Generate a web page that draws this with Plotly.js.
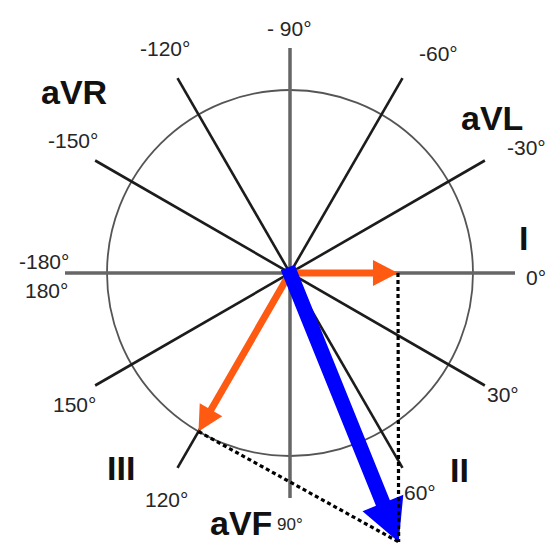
<!DOCTYPE html>
<html><head><meta charset="utf-8">
<script src="https://cdn.plot.ly/plotly-3.0.1.min.js"></script>
<style>html,body{margin:0;padding:0;background:#fff;}#chart{width:551px;height:545px;}</style>
</head><body><div id="chart"></div>
<script>
// ---------------- DATA ----------------
// Hexaxial reference lines (each line runs through the centre), degrees, clockwise positive
const axisLineAngles = [0, 30, 60, 90, 120, 150];
// Degree tick labels and the angle they belong to
const degreeAngles = [0, 30, 60, 90, 120, 150, 180, -180, -150, -120, -90, -60, -30];
const degreeLabels = ["0°", "30°", "60°", "90°", "120°", "150°", "180°", "-180°", "-150°", "-120°", "- 90°", "-60°", "-30°"];
// Lead names and their axis angle
const leadNames = ["I", "II", "III", "aVR", "aVL", "aVF"];
const leadAngles = [0, 60, 120, -150, -30, 90];
// Mean electrical axis vector (circle radius = 1)
const vectorAngle = 68;
const vectorMagnitude = 1.585;
// Projections of the vector shown on leads
const projectionLeads = ["I", "III"];
const projectionAngles = [0, 120];
const projectionMagnitudes = [0.59, 1.0];

// ---------------- PLACEMENT / STYLE ----------------
const PX = 183;                 // pixels per unit
const axisHalfLen = 225 / PX;
const degLabelPlace = [ // [angle, radius px]
  [1, 246], [29.8, 245], [59.3, 255], [90, 251], [118.5, 258], [148.6, 253],
  [176, 244], [-177.4, 246], [-148.5, 254], [-119, 257], [-90.2, 245], [-56, 265], [-28, 268]];
const leadLabelPlace = [[-8.5, 236], [49.2, 260], [131, 258], [-140, 282], [-37.5, 255], [101, 255]];
const ORANGE = "#ff5a12", BLUE = "#0000ff";

function pt(r, deg) { const a = deg * Math.PI / 180; return [r * Math.cos(a), -r * Math.sin(a)]; }

function arrowPoly(deg, len, start, shaftW, headL, headW) {
  const a = deg * Math.PI / 180, ux = Math.cos(a), uy = -Math.sin(a), nx = -uy, ny = ux;
  const b = len - headL;
  const local = [[start, shaftW / 2], [b, shaftW / 2], [b, headW / 2], [len, 0], [b, -headW / 2], [b, -shaftW / 2], [start, -shaftW / 2], [start, shaftW / 2]];
  return { x: local.map(p => p[0] * ux + p[1] * nx), y: local.map(p => p[0] * uy + p[1] * ny) };
}

const traces = [];
// axis lines
axisLineAngles.forEach(ang => {
  const p1 = pt(-axisHalfLen, ang), p2 = pt(axisHalfLen, ang);
  const main = (ang === 0 || ang === 90);
  traces.push({ type: "scatter", mode: "lines", x: [p1[0], p2[0]], y: [p1[1], p2[1]],
    line: { color: main ? "#666666" : "#1c1c1c", width: main ? 3.5 : 2.6 }, hoverinfo: "skip" });
});
// orange projection arrows
projectionAngles.forEach((ang, i) => {
  const poly = arrowPoly(ang, projectionMagnitudes[i], 0, 7 / PX, 25 / PX, 26 / PX);
  traces.push({ type: "scatter", mode: "lines", x: poly.x, y: poly.y, fill: "toself",
    fillcolor: ORANGE, line: { width: 0, color: ORANGE }, hoverinfo: "skip" });
});
// blue vector
const vpoly = arrowPoly(vectorAngle, vectorMagnitude, -6 / PX, 15 / PX, 42 / PX, 44 / PX);
traces.push({ type: "scatter", mode: "lines", x: vpoly.x, y: vpoly.y, fill: "toself",
  fillcolor: BLUE, line: { width: 0, color: BLUE }, hoverinfo: "skip" });
// dashed construction lines: from projection tips to vector tip
const vtip = pt(vectorMagnitude, vectorAngle);
projectionAngles.forEach((ang, i) => {
  const p = pt(projectionMagnitudes[i], ang);
  traces.push({ type: "scatter", mode: "lines", x: [p[0], vtip[0]], y: [p[1], vtip[1]],
    line: { color: "#000000", width: 3.2, dash: "4px,3px" }, hoverinfo: "skip" });
});

const annotations = [];
degreeLabels.forEach((t, i) => {
  const pl = degLabelPlace[i], p = pt(pl[1] / PX, pl[0]);
  annotations.push({ x: p[0], y: p[1], xref: "x", yref: "y", text: t, showarrow: false,
    xanchor: "center", yanchor: "middle",
    font: { family: "Liberation Sans, Arial, sans-serif", size: degreeAngles[i] === 90 ? 17 : 21, color: "#262626" } });
});
leadNames.forEach((t, i) => {
  const pl = leadLabelPlace[i], p = pt(pl[1] / PX, pl[0]);
  annotations.push({ x: p[0], y: p[1], xref: "x", yref: "y", text: "<b>" + t + "</b>", showarrow: false,
    xanchor: "center", yanchor: "middle",
    font: { family: "Liberation Sans, Arial, sans-serif", size: 34, color: "#111111" } });
});

const layout = {
  width: 551, height: 545, margin: { l: 0, r: 0, t: 0, b: 0, pad: 0 },
  paper_bgcolor: "#ffffff", plot_bgcolor: "#ffffff", showlegend: false,
  xaxis: { range: [-290 / PX, 261 / PX], visible: false, fixedrange: true },
  yaxis: { range: [-272 / PX, 273 / PX], visible: false, fixedrange: true },
  shapes: [{ type: "circle", xref: "x", yref: "y", x0: -1, x1: 1, y0: -1, y1: 1,
    line: { color: "#555555", width: 1.8 }, layer: "below" }],
  annotations: annotations
};
Plotly.newPlot("chart", traces, layout, { staticPlot: true, displayModeBar: false });
</script></body></html>
